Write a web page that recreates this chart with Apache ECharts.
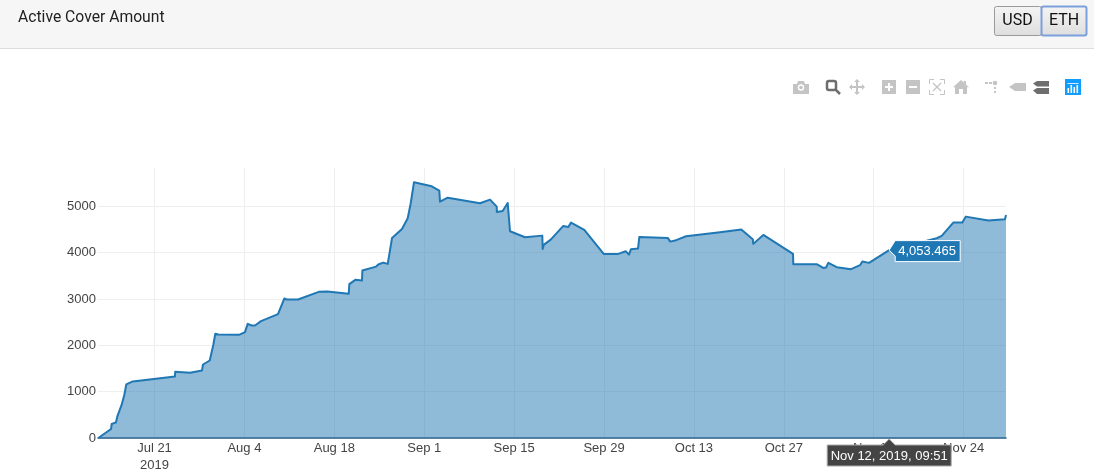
<!DOCTYPE html>
<html><head><meta charset="utf-8">
<style>html,body{margin:0;padding:0;background:#fff}#c{width:1094px;height:476px}</style>
<script src="https://cdn.jsdelivr.net/npm/echarts@6/dist/echarts.min.js"></script>
</head><body><div id="c"></div>
<script>
const baseDate = '2019-07-21';
const daysFromBase = [-8.75,-6.77,-6.67,-6.0,-5.79,-5.11,-4.70,-4.39,-3.39,3.19,3.22,5.53,7.40,7.55,8.60,9.16,9.31,9.47,9.94,13.16,14.09,14.51,15.14,15.65,16.58,19.23,20.21,20.59,22.35,25.57,26.91,30.24,30.34,31.27,32.31,32.37,34.49,34.91,35.63,36.32,36.99,38.54,39.43,39.90,40.41,43.17,44.35,44.46,45.66,50.69,52.25,53.29,53.31,54.22,55.0,55.36,57.70,60.39,60.45,60.61,61.70,63.66,64.44,64.86,66.93,69.95,72.23,73.38,73.89,74.20,74.36,75.30,75.50,79.92,80.32,81.05,82.77,88.06,91.38,93.16,93.25,94.81,99.43,99.48,103.12,104.15,104.57,104.93,106.24,108.47,109.87,110.23,111.27,114.41,121.81,122.59,124.39,125.80,126.33,129.85,132.45,132.6];
const activeCover = [0,194,302,336,466,718,933,1155,1220,1328,1429,1407,1457,1586,1672,2011,2032,2248,2233,2226,2284,2463,2427,2427,2522,2672,3009,2987,2987,3153,3159,3110,3319,3412,3397,3612,3698,3750,3784,3756,4317,4511,4741,5065,5517,5431,5336,5099,5185,5065,5142,4991,4877,4899,5071,4461,4332,4366,4080,4166,4280,4575,4554,4647,4489,3972,3972,4030,3957,4073,4043,4086,4338,4317,4237,4259,4353,4440,4496,4289,4188,4381,3972,3750,3750,3670,3677,3778,3685,3642,3728,3806,3778,4053.465,4310,4360,4647,4647,4776,4690,4720,4813];
const xTickDays = [0,14,28,42,56,70,84,98,112,126];
const xTickLabels = ['Jul 21\n2019','Aug 4','Aug 18','Sep 1','Sep 15','Sep 29','Oct 13','Oct 27','Nov 10','Nov 24'];
const yTicks = [0,1000,2000,3000,4000,5000];
const xStartDays = -8.8, xEndDays = 132.6, yMax = 5825;
const hoverIndex = 93;
const hoverValueText = '4,053.465';
const hoverDateText = 'Nov 12, 2019, 09:51';
const titleText = 'Active Cover Amount';

const labelFor = {};
xTickDays.forEach((t,i)=>labelFor[t]=xTickLabels[i]);
const seriesData = daysFromBase.map((d,i)=>[d,activeCover[i]]);

const chart = echarts.init(document.getElementById('c'),null,{renderer:'canvas'});
const FONT = '"Liberation Sans",Arial,sans-serif';
chart.setOption({
  animation:false,
  backgroundColor:'#fff',
  grid:{left:98,right:88,top:168,bottom:38,containLabel:false},
  xAxis:{type:'value',min:xStartDays,max:xEndDays,
    axisLine:{show:true,onZero:true,lineStyle:{color:'#2c5c82',width:1.5}},
    axisTick:{show:false,customValues:xTickDays},
    splitLine:{show:true,lineStyle:{color:'#eeeeee',width:1}},
    axisLabel:{customValues:xTickDays,color:'#444',fontSize:13,fontFamily:FONT,margin:2,lineHeight:17,hideOverlap:false,
      formatter:v=>labelFor[v]||''}},
  yAxis:{type:'value',min:0,max:yMax,
    axisLine:{show:false},
    axisTick:{show:false,customValues:yTicks},
    splitLine:{show:true,lineStyle:{color:'#eeeeee',width:1}},
    axisLabel:{customValues:yTicks,color:'#444',fontSize:13,fontFamily:FONT,margin:2,padding:[2,0,0,0],formatter:v=>String(v)}},
  series:[{type:'line',data:seriesData,showSymbol:false,symbol:'none',smooth:false,
    lineStyle:{color:'#1f77b4',width:2,join:'round'},
    areaStyle:{color:'rgba(31,119,180,0.5)',opacity:1,origin:'start'},z:3}]
});

const p = chart.convertToPixel({xAxisIndex:0,yAxisIndex:0},seriesData[hoverIndex]);
const hx = p[0], hy = p[1], axisY = chart.convertToPixel({yAxisIndex:0},0);
const G = '#c4c4c4', D = '#6e6e6e';
const rect=(x,y,w,h,fill)=>({type:'rect',shape:{x,y,width:w,height:h},style:{fill},silent:true,z:20});
const poly=(ox,oy,pts,fill)=>({type:'polygon',shape:{points:pts.map(q=>[q[0]+ox,q[1]+oy])},style:{fill},silent:true,z:20});
const seg=(x1,y1,x2,y2,c,w)=>({type:'line',shape:{x1,y1,x2,y2},style:{stroke:c,lineWidth:w},silent:true,z:20});
const txt=(x,y,t,size,color,align,family)=>({type:'text',x,y,silent:true,z:30,style:{text:t,fontSize:size,fill:color,align:align||'left',verticalAlign:'middle',fontFamily:family||FONT}});
const btnFill=()=>new echarts.graphic.LinearGradient(0,0,0,1,[{offset:0,color:'#f4f4f4'},{offset:1,color:'#dedede'}]);
const graphic=[
  rect(0,0,1094,48,'#f6f6f6'),
  rect(0,48,1094,1,'#dddddd'),
  txt(18,18.5,titleText,15.7,'#222','left','Roboto'),
  {type:'rect',shape:{x:994.5,y:6.5,width:47,height:29,r:2},silent:true,z:21,style:{stroke:'#9a9a9a',lineWidth:1,fill:btnFill()}},
  {type:'rect',shape:{x:1041.5,y:6.5,width:45,height:29,r:2},silent:true,z:21,style:{stroke:'#7b9fdc',lineWidth:2,fill:btnFill()}},
  txt(1017.5,21,'USD',16,'#111','center','Roboto'),
  txt(1064,21,'ETH',16,'#111','center','Roboto'),
  // camera
  poly(793,81,[[0,3],[4,3],[5,0],[11,0],[12,3],[16,3],[16,13],[0,13]],G),
  {type:'circle',shape:{cx:801,cy:87.5,r:3.2},style:{fill:'#fff'},silent:true,z:21},
  {type:'circle',shape:{cx:801,cy:87.5,r:1.8},style:{fill:G},silent:true,z:22},
  // zoom (active)
  {type:'rect',shape:{x:827,y:81,width:9,height:9,r:2},style:{fill:'none',stroke:D,lineWidth:2.5},silent:true,z:21},
  seg(835,89,840,94,D,2.5),
  // pan
  poly(849,79,[[8,0],[11,3],[9,3],[9,7],[13,7],[13,5],[16,8],[13,11],[13,9],[9,9],[9,13],[11,13],[8,16],[5,13],[7,13],[7,9],[3,9],[3,11],[0,8],[3,5],[3,7],[7,7],[7,3],[5,3]],G),
  // plus, minus
  rect(882,80,14,14,G), rect(885,86,8,2,'#fff'), rect(888,83,2,8,'#fff'),
  rect(906,80,14,14,G), rect(909,86,8,2,'#fff'),
  // autoscale
  seg(929.5,84,929.5,79.5,G,1), seg(929.5,79.5,934,79.5,G,1),
  seg(940,79.5,944.5,79.5,G,1), seg(944.5,79.5,944.5,84,G,1),
  seg(929.5,90,929.5,94.5,G,1), seg(929.5,94.5,934,94.5,G,1),
  seg(940,94.5,944.5,94.5,G,1), seg(944.5,94.5,944.5,90,G,1),
  seg(933,83,941,91,G,1.3), seg(941,83,933,91,G,1.3),
  // home
  poly(953,80,[[8,0],[11,2.6],[11,1],[13,1],[13,4.4],[16,7.2],[14,7.2],[14,14],[10,14],[10,9],[6,9],[6,14],[2,14],[2,7.2],[0,7.2]],G),
  // spike lines
  {type:'circle',shape:{cx:995,cy:83,r:2.3},style:{fill:G},silent:true,z:21},
  rect(985,82,3,2,G), rect(989,82,3,2,G), rect(994,87,2,2,G), rect(994,91,2,2,G),
  // hover closest
  poly(1009,82,[[0,5],[6,1],[17,1],[17,9],[6,9]],G),
  // hover compare
  poly(1033,80,[[0,3.5],[4,1],[16,1],[16,6.5],[4,6.5]],D),
  poly(1033,87,[[0,3.5],[4,1],[16,1],[16,7],[4,7]],D),
  // logo
  rect(1065,79,16,16,'#119dff'),
  rect(1067.5,88,1.6,5,'#fff'), rect(1070.5,85,1.6,8,'#fff'), rect(1073.5,87,1.6,6,'#fff'), rect(1076.5,85,1.6,8,'#fff'),
  rect(1067.5,83,11,1,'rgba(255,255,255,0.8)'),
  // hover labels
  {type:'polygon',shape:{points:[[hx,hy],[hx+6,hy-9.5],[hx+71,hy-9.5],[hx+71,hy+11.5],[hx+6,hy+11.5],[hx+6,hy+6]]},
    style:{fill:'#1f77b4',stroke:'#fff',lineWidth:1},silent:true,z:25},
  txt(hx+9,hy+1,hoverValueText,13,'#fff','left'),
  {type:'polygon',shape:{points:[[hx,axisY+1],[hx+6,axisY+7],[hx+62,axisY+7],[hx+62,axisY+28],[hx-62,axisY+28],[hx-62,axisY+7],[hx-6,axisY+7]]},
    style:{fill:'#444',stroke:'#aaa',lineWidth:1},silent:true,z:25},
  txt(hx,axisY+18,hoverDateText,13,'#fff','center')
];
chart.setOption({graphic});
</script></body></html>
